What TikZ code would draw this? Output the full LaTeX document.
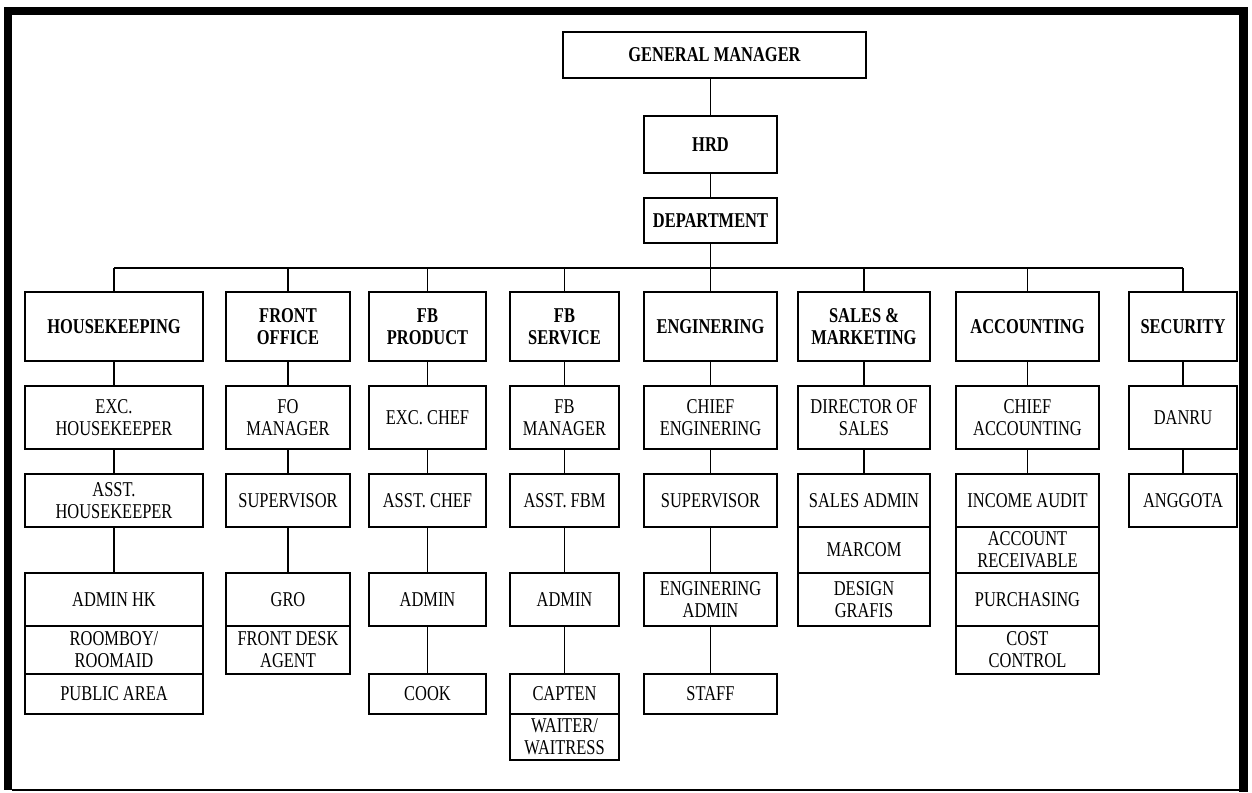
\documentclass[tikz,border=0pt]{standalone}
\usepackage{fontspec}
\setmainfont{Liberation Serif}[FakeStretch=0.78]
\usepackage{tikz}
\usetikzlibrary{positioning}
\tikzstyle{post}=[draw,line width=0.9pt,outer sep=0pt,inner sep=1pt,align=center,font=\fontsize{12}{12.5}\selectfont]
\tikzstyle{head}=[post,font=\fontsize{12}{12.5}\selectfont\bfseries]
\tikzstyle{link}=[line width=0.8pt]
\tikzset{dim/.style 2 args={minimum width=#1*0.02cm,minimum height=#2*0.02cm}}

\begin{document}
\begin{tikzpicture}[x=0.02cm,y=-0.02cm]
\useasboundingbox (0,0) rectangle (1252,792);
% frame
\fill (4,7) rectangle (1248,15);
\fill (4,7) rectangle (12,790);
\fill (1239,7) rectangle (1248,792);
\draw[line width=1pt] (12,790) -- (1239,790);

% top
\node[head,dim={303}{46}] (gm) at (714.5,55) {GENERAL MANAGER};
\node[head,dim={133}{57}] (hrd) at (710.5,144.5) {HRD};
\node[head,dim={133}{45}] (dept) at (710.5,220.5) {DEPARTMENT};

% departments
\node[head,dim={178}{69}] (hk) at (114,326.5) {HOUSEKEEPING};
\node[head,dim={124}{69}] (fo) at (288,326.5) {FRONT\\OFFICE};
\node[head,dim={117}{69}] (fbp) at (427.5,326.5) {FB\\PRODUCT};
\node[head,dim={109}{69}] (fbs) at (564.5,326.5) {FB\\SERVICE};
\node[head,dim={133}{69}] (eng) at (710.5,326.5) {ENGINERING};
\node[head,dim={132}{69}] (sm) at (864,326.5) {SALES \&\\MARKETING};
\node[head,dim={143}{69}] (acc) at (1027.5,326.5) {ACCOUNTING};
\node[head,dim={108}{69}] (sec) at (1183,326.5) {SECURITY};

% second level
\node[post,dim={178}{63}] (hk1) at (114,417.5) {EXC.\\HOUSEKEEPER};
\node[post,dim={124}{63}] (fo1) at (288,417.5) {FO\\MANAGER};
\node[post,dim={117}{63}] (fbp1) at (427.5,417.5) {EXC. CHEF};
\node[post,dim={109}{63}] (fbs1) at (564.5,417.5) {FB\\MANAGER};
\node[post,dim={133}{63}] (eng1) at (710.5,417.5) {CHIEF\\ENGINERING};
\node[post,dim={132}{63}] (sm1) at (864,417.5) {DIRECTOR OF\\SALES};
\node[post,dim={143}{63}] (acc1) at (1027.5,417.5) {CHIEF\\ACCOUNTING};
\node[post,dim={108}{63}] (sec1) at (1183,417.5) {DANRU};

% third level
\node[post,dim={178}{53}] (hk2) at (114,500.5) {ASST.\\HOUSEKEEPER};
\node[post,dim={124}{53}] (fo2) at (288,500.5) {SUPERVISOR};
\node[post,dim={117}{53}] (fbp2) at (427.5,500.5) {ASST. CHEF};
\node[post,dim={109}{53}] (fbs2) at (564.5,500.5) {ASST. FBM};
\node[post,dim={133}{53}] (eng2) at (710.5,500.5) {SUPERVISOR};
\node[post,dim={132}{53}] (sm2) at (864,500.5) {SALES ADMIN};
\node[post,dim={143}{53}] (acc2) at (1027.5,500.5) {INCOME AUDIT};
\node[post,dim={108}{53}] (sec2) at (1183,500.5) {ANGGOTA};
\node[post,dim={132}{46},below=0pt of sm2] (sm3) {MARCOM};
\node[post,dim={143}{46},below=0pt of acc2] (acc3) {ACCOUNT\\RECEIVABLE};

% fourth level
\node[post,dim={178}{53}] (hk3) at (114,599.5) {ADMIN HK};
\node[post,dim={124}{53}] (fo3) at (288,599.5) {GRO};
\node[post,dim={117}{53}] (fbp3) at (427.5,599.5) {ADMIN};
\node[post,dim={109}{53}] (fbs3) at (564.5,599.5) {ADMIN};
\node[post,dim={133}{53}] (eng3) at (710.5,599.5) {ENGINERING\\ADMIN};
\node[post,dim={132}{53},below=0pt of sm3] (sm4) {DESIGN\\GRAFIS};
\node[post,dim={143}{53},below=0pt of acc3] (acc4) {PURCHASING};
\node[post,dim={178}{48},below=0pt of hk3] (hk4) {ROOMBOY/\\ROOMAID};
\node[post,dim={124}{48},below=0pt of fo3] (fo4) {FRONT DESK\\AGENT};
\node[post,dim={143}{48},below=0pt of acc4] (acc5) {COST\\CONTROL};
\node[post,dim={178}{40},below=0pt of hk4] (hk5) {PUBLIC AREA};

% fifth level
\node[post,dim={117}{40}] (fbp4) at (427.5,694) {COOK};
\node[post,dim={109}{40}] (fbs4) at (564.5,694) {CAPTEN};
\node[post,dim={133}{40}] (eng4) at (710.5,694) {STAFF};
\node[post,dim={109}{46},below=0pt of fbs4] (fbs5) {WAITER/\\WAITRESS};

% connectors
\coordinate (bus) at (0,268);
\draw[link] (hrd) -- (hrd |- gm.south);
\draw[link] (hrd) -- (dept);
\draw[link] (dept) -- (dept |- bus);
\draw[link] (hk |- bus) -- (sec |- bus);
\foreach \d in {hk,fo,fbp,fbs,eng,sm,acc,sec}
  \draw[link] (\d) -- (\d |- bus);
\draw[link] (hk) -- (hk1) -- (hk2) -- (hk3);
\draw[link] (fo) -- (fo1) -- (fo2) -- (fo3);
\draw[link] (fbp) -- (fbp1) -- (fbp2) -- (fbp3) -- (fbp4);
\draw[link] (fbs) -- (fbs1) -- (fbs2) -- (fbs3) -- (fbs4);
\draw[link] (eng) -- (eng1) -- (eng2) -- (eng3) -- (eng4);
\draw[link] (sm) -- (sm1) -- (sm2);
\draw[link] (acc) -- (acc1) -- (acc2);
\draw[link] (sec) -- (sec1) -- (sec2);
\end{tikzpicture}
\end{document}
